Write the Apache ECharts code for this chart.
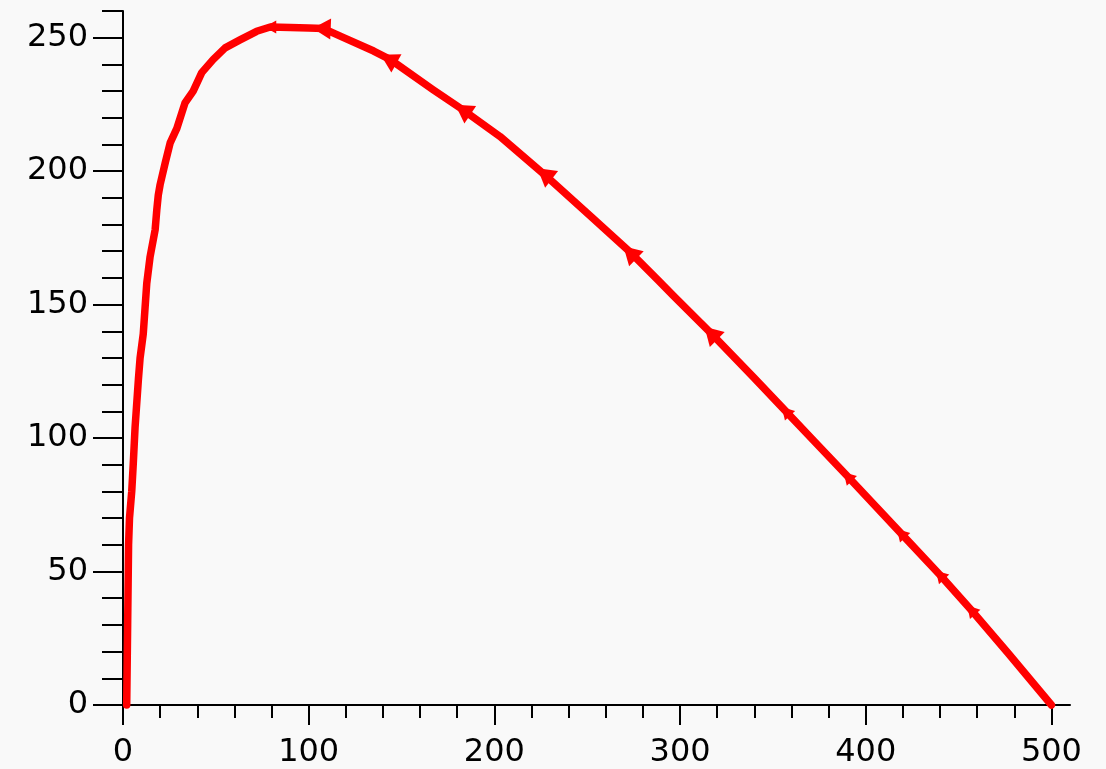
<!DOCTYPE html>
<html>
<head>
<meta charset="utf-8">
<script src="https://cdn.jsdelivr.net/npm/echarts@6/dist/echarts.min.js"></script>
<style>
html,body{margin:0;padding:0;background:#f9f9f9;}
#chart{width:1106px;height:769px;}
</style>
</head>
<body>
<div id="chart"></div>
<script>
// Curve points
const curveX = [2, 2.5, 3, 3.5, 4.7, 5.5, 6.5, 8.3, 9.2, 10.9, 11.9, 12.8, 14.6, 17.3, 18.2, 19, 20, 22.7, 25.4, 29, 33.4, 37.8, 42.4, 48.5, 55, 63, 72, 79.3, 90, 100, 108, 118.8, 135, 144, 167, 183, 203, 226.5, 252, 273.5, 288, 296.6, 316.6, 340, 357, 372, 390.3, 419, 440, 456.8, 476.6, 500];
const curveY = [0, 30, 60, 70, 80, 90, 104, 122, 130, 139, 149, 158, 168, 178, 185.5, 191, 195, 203, 210.6, 216, 225.6, 230, 236.9, 241.8, 246.2, 249.2, 252.4, 254, 253.8, 253.6, 253.4, 250, 245, 241.8, 230.5, 223, 213, 199, 183, 169.4, 159.3, 153.2, 139.3, 122.5, 110, 99, 85.6, 64.3, 48.7, 35.6, 19.5, 0];
// Arrow markers along the curve
const arrowX = [79.3, 107, 143, 183, 227, 273, 316.6, 357, 390.3, 419, 440, 456.8];
const arrowY = [254, 253.4, 242, 223, 199, 169.5, 139.3, 110, 85.6, 64.3, 48.7, 35.6];
// Tick values
const xMajor = [0, 100, 200, 300, 400, 500];
const xMinor = [20, 40, 60, 80, 120, 140, 160, 180, 220, 240, 260, 280, 320, 340, 360, 380, 420, 440, 460, 480];
const yMajor = [0, 50, 100, 150, 200, 250];
const yMinor = [10, 20, 30, 40, 60, 70, 80, 90, 110, 120, 130, 140, 160, 170, 180, 190, 210, 220, 230, 240, 260];

const PEAK_INDEX = 27;
const lineData = curveX.map((x, i) => [x, curveY[i]]);
const arrowData = arrowX.map((x, i) => [x, arrowY[i]]);

function interpY(x) {
  // interpolate on the descending branch (x >= peak)
  for (let i = PEAK_INDEX; i < curveX.length - 1; i++) {
    if (x >= curveX[i] && x <= curveX[i + 1]) {
      const t = (x - curveX[i]) / (curveX[i + 1] - curveX[i]);
      return curveY[i] + t * (curveY[i + 1] - curveY[i]);
    }
  }
  return curveY[PEAK_INDEX];
}

const axisCol = '#000';
const labelStyle = {color: '#000', fontSize: 32, fontFamily: 'DejaVu Sans'};

const chart = echarts.init(document.getElementById('chart'), null, {renderer: 'canvas'});
const option = {
  backgroundColor: '#f9f9f9',
  animation: false,
  grid: {left: 123, right: 36, top: 11, bottom: 64, containLabel: false},
  xAxis: [
    {type: 'value', min: 0, max: 510, position: 'bottom',
     axisLine: {show: true, onZero: false, lineStyle: {color: axisCol, width: 2}},
     axisTick: {show: true, length: 20, customValues: xMajor, lineStyle: {color: axisCol, width: 2}},
     axisLabel: {show: true, customValues: xMajor, margin: 32, ...labelStyle},
     splitLine: {show: false}},
    {type: 'value', min: 0, max: 510, position: 'bottom',
     axisLine: {show: false},
     axisTick: {show: true, length: 13, customValues: xMinor, lineStyle: {color: axisCol, width: 2}},
     axisLabel: {show: false},
     splitLine: {show: false}}
  ],
  yAxis: [
    {type: 'value', min: 0, max: 260, position: 'left',
     axisLine: {show: true, onZero: false, lineStyle: {color: axisCol, width: 2}},
     axisTick: {show: true, length: 30, customValues: yMajor, lineStyle: {color: axisCol, width: 2}},
     axisLabel: {show: true, customValues: yMajor, margin: 35, ...labelStyle},
     splitLine: {show: false}},
    {type: 'value', min: 0, max: 260, position: 'left',
     axisLine: {show: false},
     axisTick: {show: true, length: 21, customValues: yMinor, lineStyle: {color: axisCol, width: 2}},
     axisLabel: {show: false},
     splitLine: {show: false}}
  ],
  series: [
    {type: 'line', xAxisIndex: 0, yAxisIndex: 0, data: lineData, showSymbol: false,
     lineStyle: {color: '#ff0000', width: 7.5, join: 'round', cap: 'round'}, clip: false},
    {type: 'scatter', xAxisIndex: 0, yAxisIndex: 0, data: arrowData, symbol: 'triangle',
     symbolSize: 14, itemStyle: {color: '#ff0000', opacity: 1}}
  ]
};
chart.setOption(option);

// rotate arrows along the curve (pointing towards the peak)
const rotated = arrowData.map((p, i) => {
  const a = chart.convertToPixel({gridIndex: 0}, p);
  const xb = p[0] - 6;
  const b = chart.convertToPixel({gridIndex: 0}, [xb, interpY(xb)]);
  const dx = b[0] - a[0], dy = b[1] - a[1];
  const theta = Math.atan2(-dy, dx) * 180 / Math.PI;
  const size = i === 0 ? [13, 12] : (i <= 6 ? [21, 18] : [14, 12]);
  return {value: p, symbolRotate: theta - 90, symbolSize: size};
});
chart.setOption({series: [{}, {data: rotated}]});
</script>
</body>
</html>
